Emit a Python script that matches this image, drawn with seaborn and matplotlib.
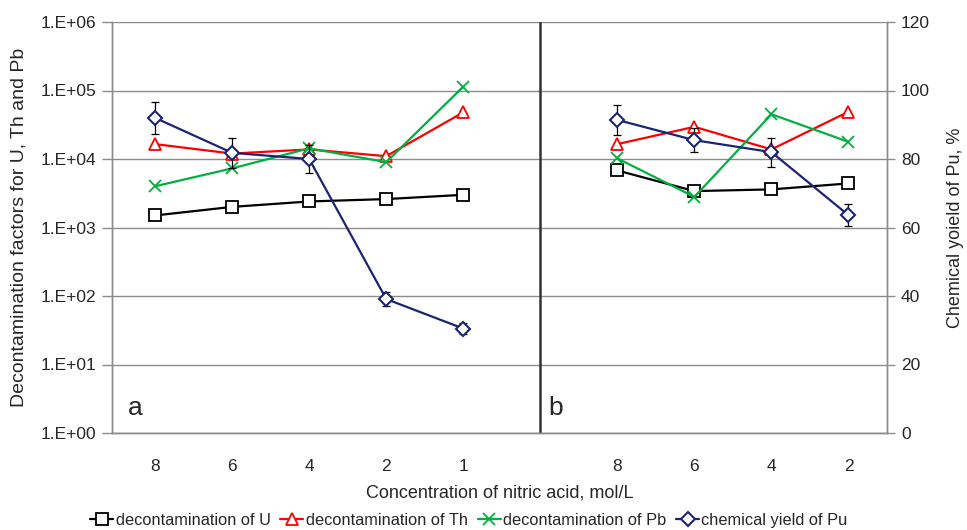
import numpy as np
import pandas as pd
import matplotlib
matplotlib.use('Agg')
import matplotlib.pyplot as plt
import seaborn as sns

sns.set_style('white')
plt.rcParams['font.family'] = ['Liberation Sans', 'DejaVu Sans']

# ========== data
conc_a = ['8', '6', '4', '2', '1']
conc_b = ['8', '6', '4', '2']

u_a = [1500, 2000, 2400, 2600, 3000]
th_a = [16500, 12000, 13800, 11000, 48000]
pb_a = [4000, 7300, 14300, 9000, 114000]
pu_a = [92.0, 81.8, 80.0, 39.1, 30.5]
pu_err_a = [4.7, 4.3, 4.0, 2.0, 1.6]

u_b = [6800, 3400, 3600, 4400]
th_b = [16500, 29500, 13800, 49000]
pb_b = [10200, 2800, 45000, 17800]
pu_b = [91.4, 85.5, 82.0, 63.6]
pu_err_b = [4.4, 3.6, 4.2, 3.3]

# category slots: panel a 0..4, gap at 5 (divider), panel b 6..9
x_a = np.arange(len(conc_a))
x_b = np.arange(len(conc_b)) + len(conc_a) + 1

series = [
    ('decontamination of U', u_a, u_b, 'black', 's'),
    ('decontamination of Th', th_a, th_b, '#ff0000', '^'),
    ('decontamination of Pb', pb_a, pb_b, '#00b040', 'x'),
]
pu_color = '#1b2470'

fig = plt.figure(figsize=(9.67, 5.30), dpi=100)
ax = fig.add_axes([112 / 967, 1 - 433 / 530, (887 - 112) / 967, (433 - 22) / 530])
ax2 = ax.twinx()

for name, va, vb, col, mk in series:
    for xs, vs, lab in [(x_a, va, name), (x_b, vb, None)]:
        sns.lineplot(x=xs, y=vs, ax=ax, color=col, marker=mk, markersize=8.5 if mk == 'x' else 8,
                     markerfacecolor='white', markeredgecolor=col, markeredgewidth=1.3,
                     linewidth=1.6, label=lab, legend=False)

for xs, vs, es, lab in [(x_a, pu_a, pu_err_a, 'chemical yield of Pu'), (x_b, pu_b, pu_err_b, None)]:
    ax2.errorbar(xs, vs, yerr=es, fmt='none', ecolor='black', elinewidth=0.9, capsize=3, capthick=0.9)
    sns.lineplot(x=xs, y=vs, ax=ax2, color=pu_color, marker='D', markersize=7,
                 markerfacecolor='white', markeredgecolor=pu_color, markeredgewidth=1.5,
                 linewidth=1.6, label=lab, legend=False)

# left axis
ax.set_yscale('log')
ax.set_ylim(1, 1e6)
ax.set_yticks([10.0 ** k for k in range(7)])
ax.set_yticklabels([f'1.E+{k:02d}' for k in range(7)])
ax.minorticks_off()
ax.set_xlim(-0.56, 9.5)
ax.set_xticks(list(x_a) + list(x_b))
ax.set_xticklabels(conc_a + conc_b)
ax.grid(axis='y', color='#8c8c8c', linewidth=1.0)
ax.set_axisbelow(True)
ax.axvline(len(conc_a), color='#333333', linewidth=1.8)

ax2.set_ylim(0, 120)
ax2.set_yticks(range(0, 121, 20))
ax2.grid(False)

for a in (ax, ax2):
    a.spines['top'].set_visible(False)
    for s in ('left', 'right', 'bottom'):
        a.spines[s].set_color('#8c8c8c')
        a.spines[s].set_linewidth(1.0)

ax.tick_params(axis='y', direction='out', length=7, width=1, color='#8c8c8c', labelsize=12.5, pad=4)
ax.tick_params(axis='x', direction='in', length=4, width=1, color='#8c8c8c', labelsize=12.5, pad=19)
ax2.tick_params(axis='y', direction='out', length=6, width=1, color='#8c8c8c', labelsize=12.5, pad=4)

ax.set_ylabel('Decontamination factors for U, Th and Pb', fontsize=14, labelpad=10)
ax2.set_ylabel('Chemical yoield of Pu, %', fontsize=13, labelpad=12)
ax.set_xlabel('Concentration of nitric acid, mol/L', fontsize=13, labelpad=7)

ax.text(0.021, 0.044, 'a', transform=ax.transAxes, fontsize=19)
ax.text(0.563, 0.044, 'b', transform=ax.transAxes, fontsize=19)

h1, l1 = ax.get_legend_handles_labels()
h2, l2 = ax2.get_legend_handles_labels()
fig.legend(h1 + h2, l1 + l2, loc='lower center', bbox_to_anchor=(0.485, -0.015), ncol=4,
           frameon=False, fontsize=11.8, handlelength=1.4, handletextpad=0.15,
           columnspacing=0.6, borderaxespad=0.2)

fig.savefig('out.png', dpi=100)
